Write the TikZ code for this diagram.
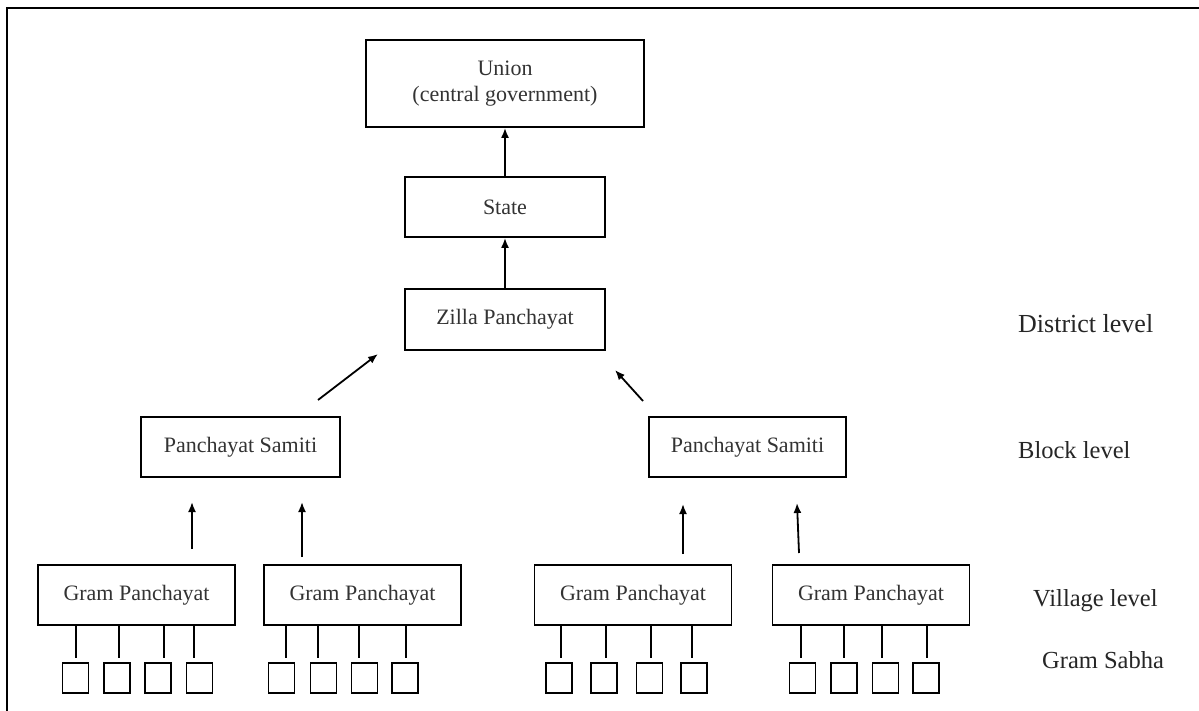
\documentclass[tikz,border=0pt]{standalone}
\usepackage{fontspec}
\setmainfont{Liberation Serif}
\usetikzlibrary{arrows.meta}
\begin{document}
\begin{tikzpicture}[x=1pt,y=-1pt,
  box/.style={draw, line width=1.8pt, inner sep=0pt, align=center, text=black!80, font=\fontsize{22}{26.4}\selectfont},
  gpbox/.style={box, minimum width=197pt, minimum height=60pt},
  sq/.style={draw, line width=1.8pt, minimum width=26pt, minimum height=30pt, inner sep=0pt},
  arr/.style={line width=1.8pt, -{Latex[length=10pt,width=8pt]}},
  tick/.style={line width=1.8pt},
  lvl/.style={anchor=base west, inner sep=0pt, text=black!85, font=\fontsize{24.5}{29}\selectfont}]
\useasboundingbox (0,0) rectangle (1199,711);
\fill[white] (0,0) rectangle (1199,711);
\draw[line width=2pt] (7,711) -- (7,8) -- (1199,8);

\node[box, minimum width=278pt, minimum height=87pt] (union) at (505,83.5) {\raisebox{-3pt}{Union}\\\raisebox{-2pt}{(central government)}};
\node[box, minimum width=200pt, minimum height=60pt] (state) at (505,207) {State};
\node[box, minimum width=200pt, minimum height=61pt] (zilla) at (505,319.5) {\raisebox{-2pt}{Zilla Panchayat}};
\node[box, minimum width=199pt, minimum height=60pt] (psl) at (240.5,447) {Panchayat Samiti};
\node[box, minimum width=197pt, minimum height=60pt] (psr) at (747.5,447) {Panchayat Samiti};

\node[gpbox] (gp1) at (136.5,595) {Gram Panchayat};
\node[gpbox] (gp2) at (362.5,595) {Gram Panchayat};
\node[gpbox] (gp3) at (633,595) {Gram Panchayat};
\node[gpbox] (gp4) at (871,595) {Gram Panchayat};

\draw[arr] (state.north) -- (union.south);
\draw[arr] (zilla.north) -- (state.south);

\coordinate (dlt) at (318,400); \coordinate (dlh) at (378,354);
\coordinate (drt) at (643,401); \coordinate (drh) at (615,370);
\draw[arr] (dlt) -- (dlh);
\draw[arr] (drt) -- (drh);

\coordinate (a1t) at (192,549); \coordinate (a1h) at (192,502);
\coordinate (a2t) at (302,557); \coordinate (a2h) at (302,502);
\coordinate (a3t) at (683,554); \coordinate (a3h) at (683,504);
\coordinate (a4t) at (799,553); \coordinate (a4h) at (797,503);
\foreach \k in {1,2,3,4} \draw[arr] (a\k t) -- (a\k h);

\foreach \g/\xs/\ls in {1/{75.5,117,158,199.5}/{76,119,164,194},
                        2/{281.5,323.5,364.5,405}/{286,318,359,406},
                        3/{559,604,649.5,694}/{561,606,651,692},
                        4/{802.5,844,885.5,926}/{801,844,882,927}}{
  \foreach \x [count=\j] in \xs {\node[sq] (s\g\j) at (\x,678) {};}
  \foreach \lx in \ls {\draw[tick] (gp\g.south -| \lx,0) -- ++(0,32);}
}

\node[lvl, font=\fontsize{26}{31}\selectfont] (dist) at (1018,332) {District level};
\node[lvl] (block) at (1018,458) {Block level};
\node[lvl] (vill) at (1033,606) {Village level};
\node[lvl] (sabha) at (1042,668) {Gram Sabha};
\end{tikzpicture}
\end{document}
